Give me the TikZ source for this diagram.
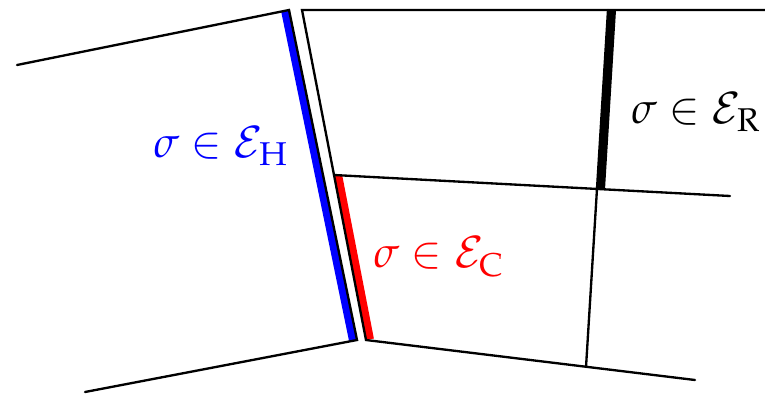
\documentclass[tikz,border=0pt]{standalone}
\usepackage{mathpazo}
\usetikzlibrary{calc}
\begin{document}
\begin{tikzpicture}[x=0.3pt,y=-0.3pt]
\useasboundingbox (0,0) rectangle (765,393);
\tikzstyle{edgeline} = [draw=black,line width=0.7pt,line cap=round,line join=miter]
\tikzstyle{facestripe} = [line width=4.8pt]
\tikzstyle{facelabel} = [font=\fontsize{13}{15}\selectfont,inner sep=0pt,anchor=center]
%%%%%%%%%%%%%%%%%%%%%%%%%%%%%
% left cell
%%%%%%%%%%%%%%%%%%%%%%%%%%%%%
\coordinate (l1) at (17,65);
\coordinate (l2) at (289,10);
\coordinate (l3) at (357,340);
\coordinate (l4) at (85,392);
%%%%%%%%%%%%%%%%%%%%%%%%%%%%%
% right cells
%%%%%%%%%%%%%%%%%%%%%%%%%%%%%
\coordinate (m1) at (302,10);
\coordinate (m2) at (334,175);
\coordinate (m3) at (366,340);
\coordinate (t1) at (765,10);
\coordinate (v1) at (608,10);
\coordinate (v2) at (597,189);
\coordinate (v3) at (586,367);
\coordinate (h1) at (730,196);
\coordinate (b1) at (695,380);
% stripes, only the inner half of each is kept
\begin{scope}
\clip (l1) -- (l2) -- (l3) -- (l4) -- cycle;
\draw [facestripe,blue] (l2) -- (l3);
\end{scope}
\begin{scope}
\clip (m2) -- (v2) -- (v3) -- (m3) -- cycle;
\draw [facestripe,red] (m2) -- (m3);
\end{scope}
\begin{scope}
\clip (v1) -- (t1) -- (h1) -- (v2) -- cycle;
\draw [facestripe,black] (v1) -- (v2);
\end{scope}
% edges
\draw [edgeline] (l1) -- (l2) -- (l3) -- (l4);
\draw [edgeline] (t1) -- (m1) -- (m3) -- (b1);
\draw [edgeline] (m2) -- (h1);
\draw [edgeline] (v1) -- (v3);
% labels
\node (lh) [facelabel,text=blue] at (221,146) {$\sigma\in\mathcal{E}_{\mathrm{H}}$};
\node (lc) [facelabel,text=red] at (439,257) {$\sigma\in\mathcal{E}_{\mathrm{C}}$};
\node (lr) [facelabel,text=black] at (696,112) {$\sigma\in\mathcal{E}_{\mathrm{R}}$};
\end{tikzpicture}
\end{document}
